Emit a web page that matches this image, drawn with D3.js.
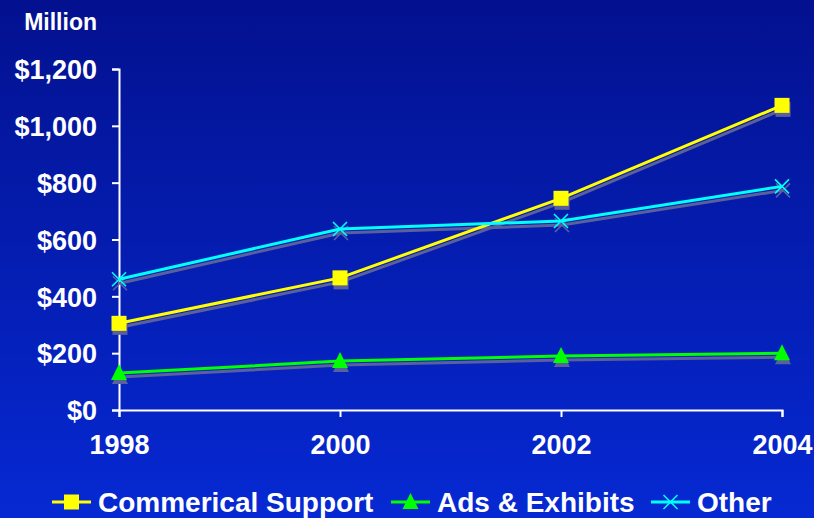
<!DOCTYPE html>
<html>
<head>
<meta charset="utf-8">
<script src="https://cdn.jsdelivr.net/npm/d3@7"></script>
<style>
  body { margin: 0; padding: 0; }
  svg { display: block; font-family: "Liberation Sans", Arial, sans-serif; font-weight: bold; }
</style>
</head>
<body>
<div id="chart"></div>
<script>
var years = [1998, 2000, 2002, 2004];
var commercial = [305, 465, 745, 1072];
var ads = [130, 172, 190, 200];
var other = [460, 637, 665, 787];
var yTicks = [0, 200, 400, 600, 800, 1000, 1200];
var seriesNames = ["Commerical Support", "Ads & Exhibits", "Other"];

var width = 814, height = 518;
var margin = { top: 69, right: 32, bottom: 108, left: 119 };

var svg = d3.select("#chart").append("svg")
  .attr("width", width)
  .attr("height", height);

var defs = svg.append("defs");
var grad = defs.append("linearGradient")
  .attr("id", "bg").attr("x1", 0).attr("y1", 0).attr("x2", 0).attr("y2", 1);
grad.append("stop").attr("offset", "0%").attr("stop-color", "#03118f");
grad.append("stop").attr("offset", "100%").attr("stop-color", "#0629d3");

svg.append("rect").attr("width", width).attr("height", height).attr("fill", "url(#bg)");

var x = d3.scaleLinear()
  .domain([1998, 2004])
  .range([margin.left, width - margin.right]);

var y = d3.scaleLinear()
  .domain([0, 1200])
  .range([height - margin.bottom, margin.top]);

// axes
var yAxis = svg.append("g")
  .attr("transform", `translate(${margin.left},0)`)
  .call(d3.axisLeft(y).tickValues(yTicks).tickSize(7).tickPadding(15)
    .tickFormat(d => "$" + d3.format(",")(d)));

var xAxis = svg.append("g")
  .attr("transform", `translate(0,${y(0)})`)
  .call(d3.axisBottom(x).tickValues(years).tickSize(7).tickPadding(16)
    .tickFormat(d3.format("d")));

[yAxis, xAxis].forEach(function(g) {
  g.select(".domain").attr("stroke", "white").attr("stroke-width", 2);
  g.selectAll(".tick line").attr("stroke", "white").attr("stroke-width", 2);
  g.selectAll("text").attr("fill", "white").style("font-size", "27px")
    .style("font-family", "'Liberation Sans', Arial, sans-serif").style("font-weight", "bold");
});
yAxis.selectAll("text").attr("dy", "0.36em");
xAxis.selectAll("text").attr("dy", "0.78em");

svg.append("text")
  .attr("x", 97).attr("y", 30)
  .attr("text-anchor", "end")
  .attr("fill", "white")
  .style("font-size", "23px")
  .text("Million");

var series = [
  { name: seriesNames[0], values: commercial, color: "#ffff00", marker: "square" },
  { name: seriesNames[1], values: ads, color: "#00ff00", marker: "triangle" },
  { name: seriesNames[2], values: other, color: "#00ffff", marker: "cross" }
];

var line = d3.line()
  .x((d, i) => x(years[i]))
  .y(d => y(d));

function drawMarker(g, type, color) {
  if (type === "square") {
    g.append("rect").attr("x", -7.5).attr("y", -7.5).attr("width", 15).attr("height", 15).attr("fill", color);
  } else if (type === "triangle") {
    g.append("path").attr("d", "M0,-9L8,7L-8,7Z").attr("fill", color);
  } else {
    g.append("path").attr("d", "M-7,-7L7,7M-7,7L7,-7").attr("stroke", color).attr("stroke-width", 1.6).attr("fill", "none");
  }
}

var shadowColor = "#5a5f9e";

// shadows first
series.forEach(function(s) {
  var sh = svg.append("g").attr("transform", "translate(1,4)");
  sh.append("path").datum(s.values)
    .attr("d", line).attr("fill", "none")
    .attr("stroke", shadowColor).attr("stroke-width", 3);
  s.values.forEach(function(v, i) {
    var m = sh.append("g").attr("transform", `translate(${x(years[i])},${y(v)})`);
    drawMarker(m, s.marker, shadowColor);
  });
});

series.forEach(function(s) {
  svg.append("path").datum(s.values)
    .attr("d", line).attr("fill", "none")
    .attr("stroke", s.color).attr("stroke-width", 3);
  s.values.forEach(function(v, i) {
    var m = svg.append("g").attr("transform", `translate(${x(years[i])},${y(v)})`);
    drawMarker(m, s.marker, s.color);
  });
});

// legend
var legendX = [52, 391, 651];
var legendY = 502;
series.forEach(function(s, i) {
  var lg = svg.append("g").attr("transform", `translate(${legendX[i]},${legendY})`);
  lg.append("line").attr("x1", 0).attr("x2", 39).attr("y1", 0).attr("y2", 0)
    .attr("stroke", s.color).attr("stroke-width", 3);
  var m = lg.append("g").attr("transform", "translate(19.5,0)");
  drawMarker(m, s.marker, s.color);
  lg.append("text").attr("x", 46).attr("y", 10)
    .attr("fill", "white").style("font-size", "28px")
    .text(s.name);
});
</script>
</body>
</html>
